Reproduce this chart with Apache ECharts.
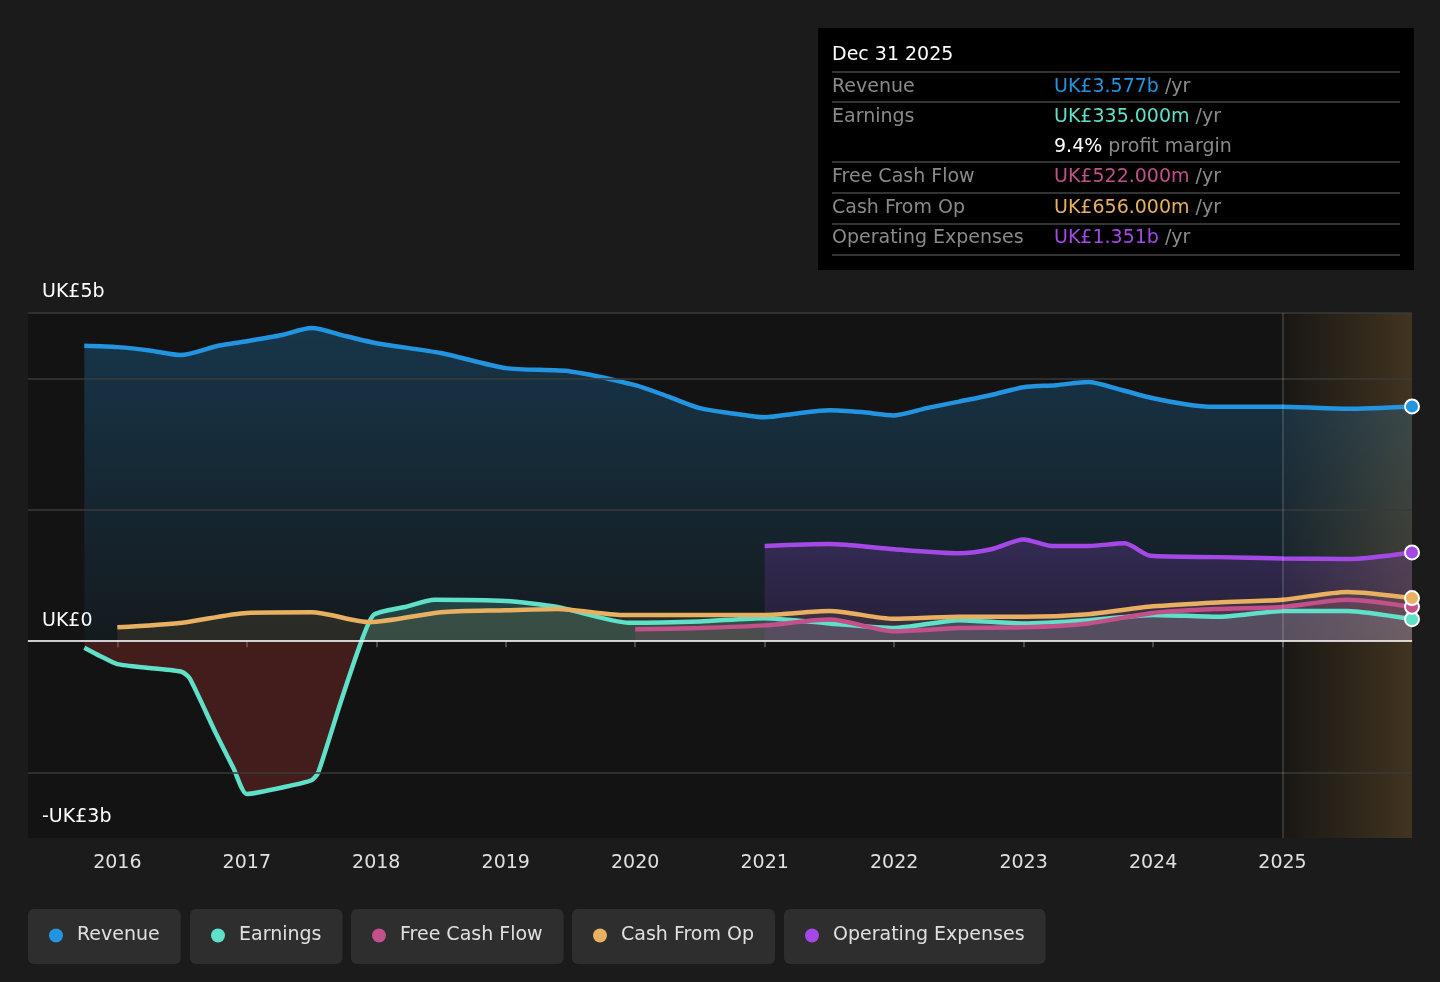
<!DOCTYPE html>
<html><head><meta charset="utf-8">
<script src="https://cdn.jsdelivr.net/npm/echarts@6/dist/echarts.min.js"></script>
<style>html,body{margin:0;padding:0;background:#1b1b1b;} #c{width:1440px;height:982px;}</style>
</head><body><div id="c"></div>
<script>
// ---- data (UK£ billions, x = decimal year) ----
const revenueT = [2015.745, 2016.0, 2016.25, 2016.49, 2016.78, 2017.0, 2017.26, 2017.5, 2017.76, 2018.0, 2018.5, 2019.0, 2019.5, 2020.0, 2020.25, 2020.5, 2020.75, 2021.0, 2021.25, 2021.5, 2021.75, 2022.0, 2022.25, 2022.5, 2022.75, 2023.0, 2023.25, 2023.5, 2023.75, 2024.0, 2024.25, 2024.47, 2025.0, 2025.5, 2026.0];
const revenueV = [4.50, 4.48, 4.43, 4.36, 4.50, 4.57, 4.66, 4.77, 4.65, 4.54, 4.39, 4.16, 4.11, 3.90, 3.73, 3.55, 3.47, 3.41, 3.47, 3.52, 3.49, 3.44, 3.55, 3.65, 3.75, 3.87, 3.90, 3.95, 3.83, 3.70, 3.61, 3.57, 3.57, 3.54, 3.577];

const earningsT = [2015.745, 2015.87, 2016.0, 2016.25, 2016.5, 2016.56, 2016.76, 2016.9, 2017.0, 2017.3, 2017.5, 2017.55, 2017.73, 2017.88, 2017.98, 2018.22, 2018.45, 2019.0, 2019.4, 2019.95, 2020.5, 2021.0, 2021.5, 2022.0, 2022.5, 2023.0, 2023.5, 2024.0, 2024.5, 2025.0, 2025.5, 2026.0];
const earningsV = [-0.10, -0.23, -0.35, -0.41, -0.47, -0.57, -1.40, -1.95, -2.33, -2.22, -2.12, -2.01, -0.90, -0.03, 0.40, 0.52, 0.63, 0.61, 0.52, 0.28, 0.30, 0.35, 0.27, 0.20, 0.32, 0.27, 0.32, 0.40, 0.37, 0.46, 0.46, 0.335];

const fcfT = [2020.0, 2020.5, 2021.0, 2021.5, 2022.0, 2022.5, 2023.0, 2023.5, 2024.0, 2024.5, 2025.0, 2025.5, 2026.0];
const fcfV = [0.18, 0.20, 0.24, 0.33, 0.15, 0.20, 0.21, 0.27, 0.43, 0.49, 0.52, 0.63, 0.522];

const cfoT = [2016.0, 2016.5, 2017.0, 2017.5, 2017.95, 2018.5, 2019.0, 2019.4, 2019.9, 2020.5, 2021.0, 2021.5, 2022.0, 2022.5, 2023.0, 2023.5, 2024.0, 2024.5, 2025.0, 2025.5, 2026.0];
const cfoV = [0.21, 0.28, 0.43, 0.44, 0.29, 0.44, 0.47, 0.49, 0.40, 0.40, 0.40, 0.46, 0.34, 0.37, 0.37, 0.41, 0.53, 0.59, 0.63, 0.75, 0.656];

const opexT = [2021.0, 2021.5, 2022.0, 2022.5, 2022.75, 2023.0, 2023.22, 2023.5, 2023.78, 2023.98, 2024.5, 2025.0, 2025.5, 2026.0];
const opexV = [1.45, 1.48, 1.40, 1.34, 1.40, 1.55, 1.45, 1.45, 1.49, 1.30, 1.28, 1.26, 1.25, 1.351];

const yearTicks = [2016, 2017, 2018, 2019, 2020, 2021, 2022, 2023, 2024, 2025];
const yLabelValues = [5, 0, -3];
const gridValues = [5, 4, 2, -2];

const seriesNames = ['Revenue', 'Earnings', 'Free Cash Flow', 'Cash From Op', 'Operating Expenses'];
const colors = ['#2394df', '#5fe0c8', '#c2508a', '#e8b060', '#a549e6'];

const tooltipTitle = 'Dec 31 2025';
const tooltipRows = [
  ['Revenue', 'UK£3.577b', ' /yr', 0],
  ['Earnings', 'UK£335.000m', ' /yr', 1],
  ['', '9.4%', ' profit margin', -1],
  ['Free Cash Flow', 'UK£522.000m', ' /yr', 2],
  ['Cash From Op', 'UK£656.000m', ' /yr', 3],
  ['Operating Expenses', 'UK£1.351b', ' /yr', 4]
];

// ---- chart ----
const FONT = 'DejaVu Sans';
const zip = (t, v) => t.map((x, i) => [x, v[i]]);
const gridTop = 313, gridBottomPx = 838;

function lineSeries(idx, t, v, area, extra) {
  const last = t.length - 1;
  return Object.assign({
    name: seriesNames[idx],
    type: 'line',
    data: zip(t, v),
    smooth: 0.25,
    showSymbol: true,
    showAllSymbol: true,
    symbol: 'circle',
    symbolSize: (val, p) => p.dataIndex === last ? 14 : 0,
    lineStyle: { color: colors[idx], width: 4.5 },
    itemStyle: { color: colors[idx], borderColor: '#ffffff', borderWidth: 2 },
    areaStyle: area,
    emphasis: { disabled: true },
    silent: true,
    clip: false
  }, extra || {});
}

const legends = [28, 190, 351, 572, 784].map((left, i) => ({
  data: [seriesNames[i]],
  left: left, top: 909,
  orient: 'horizontal',
  backgroundColor: '#2e2e2e',
  borderRadius: 6,
  padding: [17, 21, 19, 21],
  itemWidth: 14, itemHeight: 14,
  icon: 'circle',
  itemStyle: { borderWidth: 0 },
  selectedMode: false,
  textStyle: { color: '#e0e0e0', fontSize: 19, fontFamily: FONT, padding: [0, 0, 0, 9] }
}));

const graphics = [
  { type: 'rect', shape: { x: 818, y: 28, width: 596, height: 242 }, style: { fill: '#000000' }, z: 100 },
  { type: 'text', x: 832, y: 55, style: { text: tooltipTitle, fill: '#ffffff', font: '19px "' + FONT + '"', verticalAlign: 'middle' }, z: 101 }
];
[72, 102, 162, 193, 224, 255].forEach(y => {
  graphics.push({ type: 'line', shape: { x1: 832, y1: y, x2: 1400, y2: y }, style: { stroke: '#444444', lineWidth: 1.5 }, z: 101 });
});
const rowY = [87, 117, 147, 177, 208, 238];
tooltipRows.forEach((r, i) => {
  if (r[0]) graphics.push({ type: 'text', x: 832, y: rowY[i], style: { text: r[0], fill: '#8a8a8a', font: '19px "' + FONT + '"', verticalAlign: 'middle' }, z: 101 });
  graphics.push({ type: 'text', x: 1054, y: rowY[i], style: {
    text: '{v|' + r[1] + '}{u|' + r[2] + '}', verticalAlign: 'middle',
    rich: { v: { fill: r[3] >= 0 ? colors[r[3]] : '#ffffff', fontSize: 19, fontFamily: FONT }, u: { fill: '#8a8a8a', fontSize: 19, fontFamily: FONT } }
  }, z: 101 });
});

const option = {
  backgroundColor: '#1b1b1b',
  animation: false,
  textStyle: { fontFamily: FONT },
  grid: { left: 28, right: 28, top: gridTop, bottom: 982 - gridBottomPx, show: true, backgroundColor: '#131313', borderWidth: 0 },
  legend: legends,
  graphic: graphics,
  xAxis: {
    type: 'value', min: 2015.31, max: 2026.0,
    axisLine: { show: true, lineStyle: { color: '#4a4a4a', width: 1.5 } },
    axisTick: { show: true, customValues: yearTicks, length: 6, lineStyle: { color: '#5a5a5a', width: 1.5 } },
    axisLabel: { customValues: yearTicks, formatter: v => String(Math.round(v)), color: '#e0e0e0', fontSize: 19, margin: 16 },
    splitLine: { show: false }
  },
  yAxis: {
    type: 'value', min: -3, max: 5,
    axisLine: { show: false }, axisTick: { show: false },
    splitLine: { show: false },
    axisLabel: {
      customValues: yLabelValues, inside: true, margin: 14, verticalAlign: 'bottom',
      padding: [0, 0, 11, 0], color: '#ffffff', fontSize: 19,
      formatter: v => v === 0 ? 'UK£0' : (v < 0 ? '-UK£' + (-v) + 'b' : 'UK£' + v + 'b')
    }
  },
  series: [
    lineSeries(0, revenueT, revenueV, {
      color: new echarts.graphic.LinearGradient(0, 0, 0, 1, [
        { offset: 0, color: 'rgba(35,148,223,0.38)' }, { offset: 1, color: 'rgba(35,148,223,0.08)' }])
    }, {
      markLine: {
        silent: true, symbol: ['none', 'none'], label: { show: false },
        lineStyle: { color: '#3a3a3a', width: 1.5, type: 'solid' },
        data: gridValues.map(v => ({ yAxis: v }))
      }
    }),
    lineSeries(1, earningsT, earningsV, {
      color: { type: 'linear', x: 0, y: gridTop, x2: 0, y2: gridBottomPx, global: true, colorStops: [
        { offset: 0, color: 'rgba(95,224,200,0.28)' }, { offset: 0.625, color: 'rgba(95,224,200,0.28)' },
        { offset: 0.625, color: 'rgba(210,55,55,0.36)' }, { offset: 1, color: 'rgba(210,55,55,0.36)' }] }
    }, { smooth: 0.2 }),
    lineSeries(2, fcfT, fcfV, { color: 'rgba(194,80,138,0.2)' }),
    lineSeries(3, cfoT, cfoV, { color: 'rgba(232,176,96,0.15)' }),
    lineSeries(4, opexT, opexV, {
      color: new echarts.graphic.LinearGradient(0, 0, 0, 1, [
        { offset: 0, color: 'rgba(165,73,230,0.3)' }, { offset: 1, color: 'rgba(165,73,230,0.16)' }])
    }, {
      markArea: {
        silent: true,
        itemStyle: { color: new echarts.graphic.LinearGradient(0, 0, 1, 0, [
          { offset: 0, color: 'rgba(120,90,45,0.06)' }, { offset: 1, color: 'rgba(130,98,50,0.42)' }]) },
        data: [[{ xAxis: 2025 }, { xAxis: 2026 }]]
      },
      markLine: {
        silent: true, symbol: ['none', 'none'], label: { show: false },
        data: [
          { xAxis: 2025, lineStyle: { color: 'rgba(255,255,255,0.18)', width: 1.5, type: 'solid' } },
          { yAxis: 0, lineStyle: { color: '#ffffff', width: 1.5, type: 'solid' } }
        ]
      }
    })
  ]
};

const chart = echarts.init(document.getElementById('c'), null, { renderer: 'canvas' });
chart.setOption(option);
</script>
</body></html>
